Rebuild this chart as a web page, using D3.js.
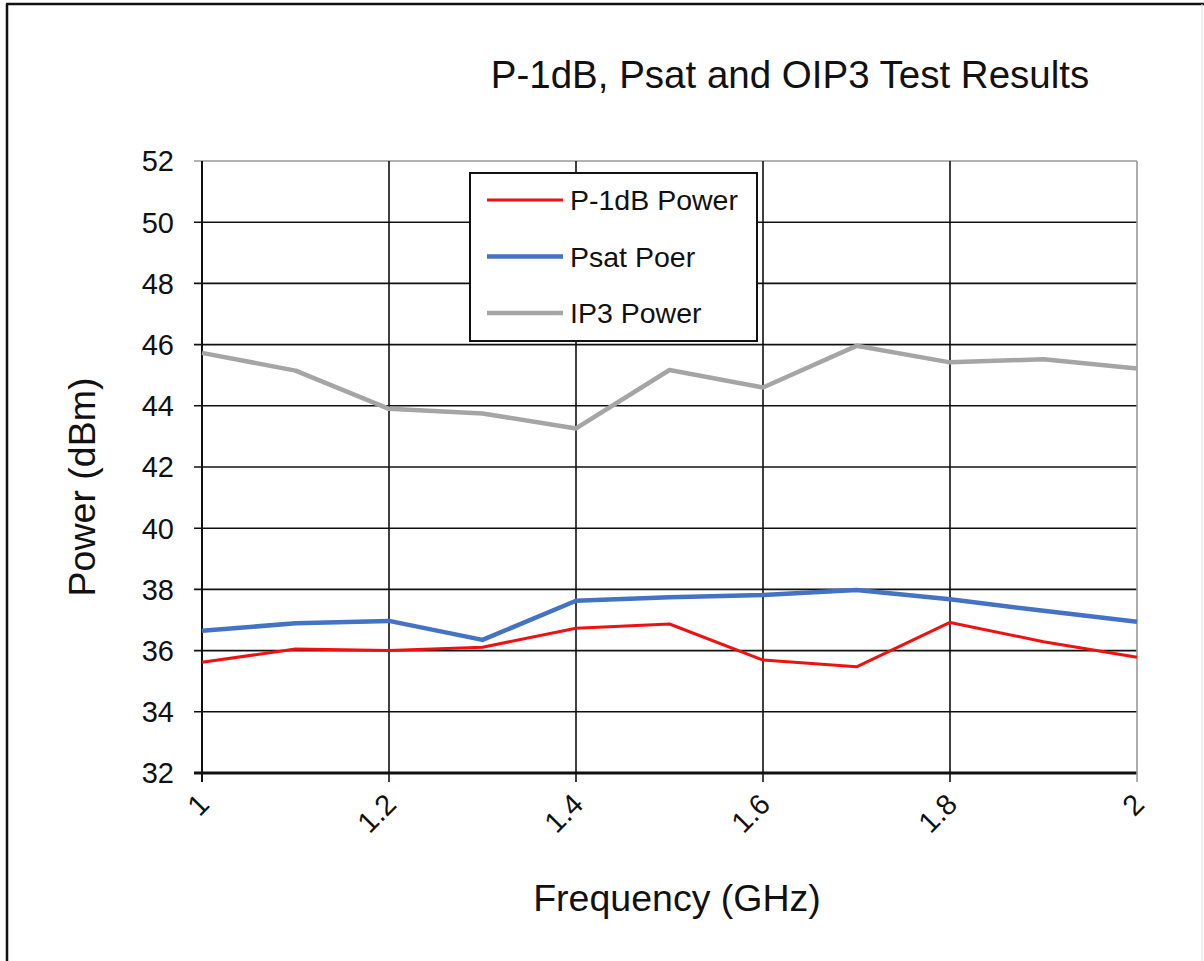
<!DOCTYPE html>
<html>
<head>
<meta charset="utf-8">
<script src="https://cdn.jsdelivr.net/npm/d3@7"></script>
<style>
    body { margin: 0; background: #fff; }
    svg { display: block; font-family: "Liberation Sans", Arial, sans-serif; }
</style>
</head>
<body>
<div id="svg-container"></div>
<script>

// values
const freqs = [1, 1.1, 1.2, 1.3, 1.4, 1.5, 1.6, 1.7, 1.8, 1.9, 2];
const p1dbPower = [35.62, 36.05, 36.0, 36.11, 36.73, 36.87, 35.69, 35.47, 36.92, 36.29, 35.78];
const psatPower = [36.65, 36.89, 36.97, 36.35, 37.63, 37.74, 37.82, 37.98, 37.68, 37.3, 36.94];
const ip3Power = [45.73, 45.15, 43.9, 43.75, 43.26, 45.17, 44.6, 45.96, 45.42, 45.52, 45.22];

const seriesNames = ["P-1dB Power", "Psat Poer", "IP3 Power"];
const xTicks = [1, 1.2, 1.4, 1.6, 1.8, 2];
const yTicks = [32, 34, 36, 38, 40, 42, 44, 46, 48, 50, 52];

const buildChart = () => {

    let [viewWidth, viewHeight] = [1204, 961];
    let svg = d3.select("#svg-container")
        .append("svg")
        .attr("width", viewWidth)
        .attr("height", viewHeight);

    // outer frame
    svg.append("line").attr("x1", 6).attr("x2", 1204).attr("y1", 4).attr("y2", 4)
        .attr("stroke", "#111").attr("stroke-width", 2.5);
    svg.append("line").attr("x1", 7).attr("x2", 7).attr("y1", 4).attr("y2", 961)
        .attr("stroke", "#111").attr("stroke-width", 2.5);
    svg.append("line").attr("x1", 1202).attr("x2", 1202).attr("y1", 4).attr("y2", 961)
        .attr("stroke", "#ddd").attr("stroke-width", 1);

    const x = d3.scaleLinear().domain([1, 2]).range([202, 1137]);
    const y = d3.scaleLinear().domain([32, 52]).range([773, 161]);

    // gridlines
    svg.append("g")
        .selectAll("line")
        .data(yTicks)
        .enter()
        .append("line")
        .attr("x1", x(1) - 8)
        .attr("x2", x(2))
        .attr("y1", d => y(d))
        .attr("y2", d => y(d))
        .attr("stroke", d => d === 52 ? "#999" : "#111")
        .attr("stroke-width", d => d === 32 ? 3 : 1.6);

    svg.append("g")
        .selectAll("line")
        .data(xTicks)
        .enter()
        .append("line")
        .attr("x1", d => x(d))
        .attr("x2", d => x(d))
        .attr("y1", y(52))
        .attr("y2", y(32) + 9)
        .attr("stroke", d => d === 2 ? "#999" : "#111")
        .attr("stroke-width", d => d === 1 ? 2 : 1.6);

    // tick labels
    svg.append("g")
        .selectAll("text")
        .data(yTicks)
        .enter()
        .append("text")
        .attr("x", 174)
        .attr("y", d => y(d))
        .attr("dy", "0.36em")
        .attr("text-anchor", "end")
        .attr("font-size", 29)
        .attr("fill", "#111")
        .text(d => d);

    svg.append("g")
        .selectAll("text")
        .data(xTicks)
        .enter()
        .append("text")
        .attr("text-anchor", "end")
        .attr("font-size", 29)
        .attr("fill", "#111")
        .attr("transform", d => `translate(${x(d) + 9},${806}) rotate(-45)`)
        .text(d => d);

    // series
    const series = [
        {name: seriesNames[0], values: p1dbPower, color: "#ee1111", width: 3},
        {name: seriesNames[1], values: psatPower, color: "#4472c4", width: 4.5},
        {name: seriesNames[2], values: ip3Power, color: "#a5a5a5", width: 4.5}
    ];

    const line = d3.line()
        .x((d, i) => x(freqs[i]))
        .y(d => y(d));

    svg.append("g")
        .selectAll("path")
        .data(series.slice().reverse())
        .enter()
        .append("path")
        .attr("d", d => line(d.values))
        .attr("fill", "none")
        .attr("stroke", d => d.color)
        .attr("stroke-width", d => d.width)
        .attr("stroke-linejoin", "round");

    // legend
    let legend = svg.append("g").attr("transform", "translate(470,173)");
    legend.append("rect")
        .attr("width", 287)
        .attr("height", 168)
        .attr("fill", "#fff")
        .attr("stroke", "#111")
        .attr("stroke-width", 2);

    let item = legend.selectAll(".item")
        .data(series)
        .enter()
        .append("g")
        .attr("class", "item")
        .attr("transform", (d, i) => `translate(0,${27 + i * 56.5})`);

    item.append("line")
        .attr("x1", 17)
        .attr("x2", 93)
        .attr("stroke", d => d.color)
        .attr("stroke-width", d => d.width);

    item.append("text")
        .attr("x", 100)
        .attr("dy", "0.36em")
        .attr("font-size", 28.5)
        .attr("fill", "#111")
        .text(d => d.name);

    // titles
    svg.append("text")
        .attr("x", 790)
        .attr("y", 88)
        .attr("text-anchor", "middle")
        .attr("font-size", 38.5)
        .attr("fill", "#111")
        .text("P-1dB, Psat and OIP3 Test Results");

    svg.append("text")
        .attr("x", 677)
        .attr("y", 911)
        .attr("text-anchor", "middle")
        .attr("font-size", 37.5)
        .attr("fill", "#111")
        .text("Frequency (GHz)");

    svg.append("text")
        .attr("transform", "translate(95,487) rotate(-90)")
        .attr("text-anchor", "middle")
        .attr("font-size", 37.5)
        .attr("fill", "#111")
        .text("Power (dBm)");
};

buildChart();
</script>
</body>
</html>
